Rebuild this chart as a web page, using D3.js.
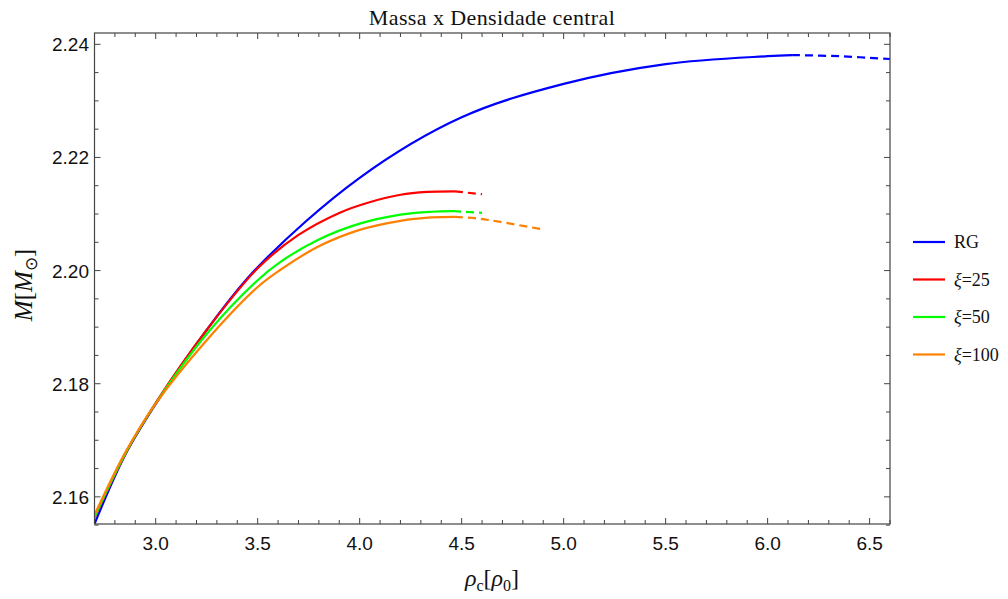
<!DOCTYPE html>
<html>
<head>
<meta charset="utf-8">
<script src="https://cdn.jsdelivr.net/npm/d3@7"></script>
<style>
  body { margin: 0; background: #fff; }
  svg { display: block; }
  .tick-label { font-family: "Liberation Sans", Arial, sans-serif; font-size: 19px; fill: #111; }
  .serif { font-family: "Liberation Serif", "Times New Roman", serif; fill: #111; }
</style>
</head>
<body>
<script>
// values: central density (rho_c / rho_0) and mass (M_sun)
const rhoRG  = [2.70, 2.85, 3.00, 3.25, 3.50, 4.00, 4.50, 5.00, 5.50, 6.00, 6.12];
const massRG = [2.1552, 2.1674, 2.1764, 2.1895, 2.2006, 2.2164, 2.2271, 2.2330, 2.2365, 2.2379, 2.2381];
const rhoRGDash  = [6.12, 6.35, 6.60];
const massRGDash = [2.2381, 2.2379, 2.2374];

const rhoX25  = [2.70, 2.85, 3.00, 3.25, 3.50, 3.70, 3.90, 4.04, 4.20, 4.33, 4.467];
const massX25 = [2.1563, 2.1675, 2.1766, 2.1895, 2.2004, 2.2063, 2.2102, 2.2120, 2.2134, 2.2139, 2.2140];
const rhoX25Dash  = [4.467, 4.60];
const massX25Dash = [2.2140, 2.2135];

const rhoX50  = [2.70, 2.85, 3.00, 3.25, 3.50, 3.61, 3.80, 4.00, 4.20, 4.35, 4.458];
const massX50 = [2.1564, 2.1676, 2.1765, 2.1888, 2.1983, 2.2015, 2.2055, 2.2083, 2.2099, 2.2104, 2.2105];
const rhoX50Dash  = [4.458, 4.60];
const massX50Dash = [2.2105, 2.2102];

const rhoX100  = [2.70, 2.85, 3.00, 3.25, 3.50, 3.61, 3.80, 4.00, 4.20, 4.35, 4.467];
const massX100 = [2.1568, 2.1678, 2.1765, 2.1877, 2.1971, 2.2001, 2.2043, 2.2072, 2.2088, 2.2094, 2.2095];
const rhoX100Dash  = [4.467, 4.58, 4.69, 4.894];
const massX100Dash = [2.2095, 2.2092, 2.2086, 2.2073];

const seriesNames  = ['RG', '25', '50', '100'];
const seriesColors = ['#0000ff', '#ff0000', '#00ff00', '#ff8000'];

const xTicks = [3.0, 3.5, 4.0, 4.5, 5.0, 5.5, 6.0, 6.5];
const yTicks = [2.16, 2.18, 2.20, 2.22, 2.24];

const w = 1008, h = 599;
const pLeft = 94.5, pRight = 890, pTop = 33, pBottom = 524;

const x = d3.scaleLinear().domain([2.7, 6.6]).range([pLeft, pRight]);
const y = d3.scaleLinear().domain([2.1552, 2.242]).range([pBottom, pTop]);

const svg = d3.select('body').append('svg')
  .attr('width', w).attr('height', h);

svg.append('defs').append('clipPath').attr('id', 'plot')
  .append('rect')
    .attr('x', pLeft).attr('y', pTop)
    .attr('width', pRight - pLeft).attr('height', pBottom - pTop);

const line = d3.line()
  .x(d => x(d[0]))
  .y(d => y(d[1]))
  .curve(d3.curveCatmullRom.alpha(0.5));

const zipped = (a, b) => a.map((v, i) => [v, b[i]]);
const solids = [zipped(rhoRG, massRG), zipped(rhoX25, massX25), zipped(rhoX50, massX50), zipped(rhoX100, massX100)];
const dashes = [zipped(rhoRGDash, massRGDash), zipped(rhoX25Dash, massX25Dash), zipped(rhoX50Dash, massX50Dash), zipped(rhoX100Dash, massX100Dash)];

const curves = svg.append('g').attr('clip-path', 'url(#plot)');
solids.forEach((s, i) => {
  curves.append('path')
    .attr('d', line(s))
    .attr('fill', 'none')
    .attr('stroke', seriesColors[i])
    .attr('stroke-width', 2.2);
  curves.append('path')
    .attr('d', line(dashes[i]))
    .attr('fill', 'none')
    .attr('stroke', seriesColors[i])
    .attr('stroke-width', 2.2)
    .attr('stroke-dasharray', '8,5');
});

// frame with inward ticks on all four sides
const frame = svg.append('g').attr('stroke', '#444').attr('stroke-width', 1);
frame.append('rect')
  .attr('x', pLeft).attr('y', pTop)
  .attr('width', pRight - pLeft).attr('height', pBottom - pTop)
  .attr('fill', 'none').attr('stroke-width', 1.2);

const xMinor = d3.range(27, 67).map(v => v / 10);
xMinor.forEach(v => {
  const major = Math.abs(v * 2 - Math.round(v * 2)) < 1e-6;
  const len = major ? 6 : 4;
  const px = x(v);
  frame.append('line').attr('x1', px).attr('x2', px).attr('y1', pBottom).attr('y2', pBottom - len);
  frame.append('line').attr('x1', px).attr('x2', px).attr('y1', pTop).attr('y2', pTop + len);
});

const yMinor = d3.range(0, 18).map(i => 2.155 + i * 0.005).filter(v => v <= 2.242);
yMinor.forEach(v => {
  const major = Math.abs(v * 50 - Math.round(v * 50)) < 1e-6;
  const len = major ? 6 : 4;
  const py = y(v);
  frame.append('line').attr('x1', pLeft).attr('x2', pLeft + len).attr('y1', py).attr('y2', py);
  frame.append('line').attr('x1', pRight).attr('x2', pRight - len).attr('y1', py).attr('y2', py);
});

svg.selectAll('text.xt')
  .data(xTicks)
  .enter().append('text')
    .attr('class', 'tick-label xt')
    .attr('x', d => x(d))
    .attr('y', 550)
    .attr('text-anchor', 'middle')
    .text(d => d.toFixed(1));

svg.selectAll('text.yt')
  .data(yTicks)
  .enter().append('text')
    .attr('class', 'tick-label yt')
    .attr('x', 89)
    .attr('y', d => y(d) + 7)
    .attr('text-anchor', 'end')
    .text(d => d.toFixed(2));

svg.append('text')
  .attr('class', 'serif')
  .attr('x', 492).attr('y', 25)
  .attr('text-anchor', 'middle')
  .style('font-size', '22px')
  .style('letter-spacing', '0.4px')
  .text('Massa x Densidade central');

// x axis label: rho_c[rho_0]
const xl = svg.append('text')
  .attr('class', 'serif')
  .attr('x', 492).attr('y', 586)
  .attr('text-anchor', 'middle')
  .style('font-size', '24px');
xl.append('tspan').style('font-style', 'italic').text('ρ');
xl.append('tspan').attr('dy', 5).style('font-size', '16px').text('c');
xl.append('tspan').attr('dy', -5).text('[');
xl.append('tspan').style('font-style', 'italic').text('ρ');
xl.append('tspan').attr('dy', 5).style('font-size', '16px').text('0');
xl.append('tspan').attr('dy', -5).text(']');

// y axis label: M[M_sun]
const yl = svg.append('text')
  .attr('class', 'serif')
  .attr('transform', 'translate(32,285) rotate(-90)')
  .attr('text-anchor', 'middle')
  .style('font-size', '25px');
yl.append('tspan').style('font-style', 'italic').text('M');
yl.append('tspan').text('[');
yl.append('tspan').style('font-style', 'italic').text('M');
yl.append('tspan').attr('dy', 5).style('font-size', '17px').text('⊙');
yl.append('tspan').attr('dy', -5).text(']');

const legend = svg.append('g');
seriesNames.forEach((name, i) => {
  const ly = 242 + i * 37.5;
  legend.append('line')
    .attr('x1', 913).attr('x2', 945)
    .attr('y1', ly).attr('y2', ly)
    .attr('stroke', seriesColors[i]).attr('stroke-width', 2.2);
  const t = legend.append('text')
    .attr('class', 'serif')
    .attr('x', 954).attr('y', ly + 6)
    .style('font-size', '18px');
  if (name === 'RG') {
    t.text('RG');
  } else {
    t.append('tspan').style('font-style', 'italic').text('ξ');
    t.append('tspan').text('=' + name);
  }
});
</script>
</body>
</html>
